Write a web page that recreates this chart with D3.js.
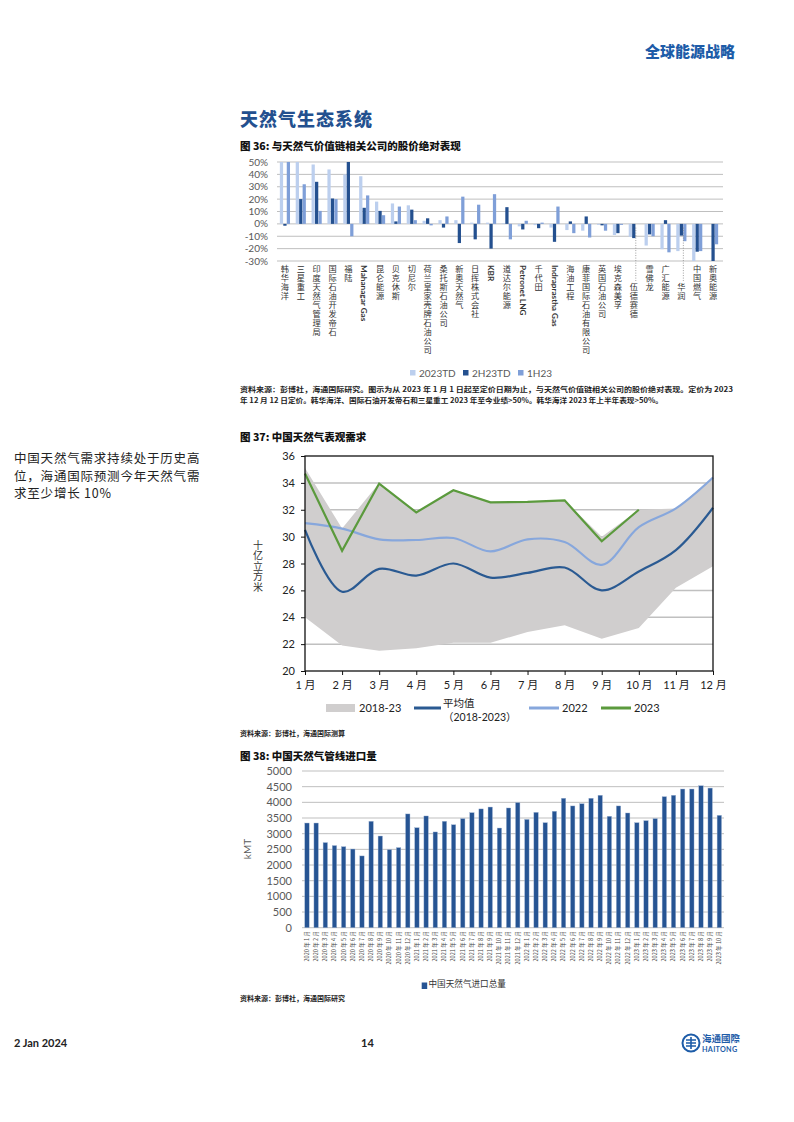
<!DOCTYPE html>
<html><head><meta charset="utf-8">
<script src="https://cdn.jsdelivr.net/npm/d3@7"></script>
<style>
body{margin:0;background:#fff;}
svg text{font-family: Lato, "Noto Sans CJK SC", sans-serif;}
.cjk{font-family:"Noto Sans CJK SC", sans-serif !important;}
</style></head><body>
<svg id="page" width="794" height="1122" xmlns="http://www.w3.org/2000/svg"></svg>
<script>
// ---------- Figure 36 data ----------
const companies = ["韩华海洋","三星重工","印度天然气管理局","国际石油开发帝石","福陆","Mahanagar Gas","昆仑能源","贝克休斯","切尼尔","荷兰皇家壳牌石油公司","桑托斯石油公司","新奥天然气","日挥株式会社","KBR","道达尔能源","Petronet LNG","千代田","Indraprastha Gas","海油工程","康菲国际石油有限公司","英国石油公司","埃克森美孚","伍德赛德","雪佛龙","广汇能源","华润","中国燃气","新奥能源"];
const truncated = ["伍德赛德","华润"];
const perf2023TD = [65,62,48,44,40,38.5,18,16.5,15,2.5,3,3,1,1,0.5,-2,-1,-3,-5,-5.5,-0.8,-9,-10.5,-17.5,-20.5,-22,-32,0];
const perf2H23TD = [-1.5,20,34,20.5,55,13,10.5,2,11.5,4.5,-3,-15.5,-12.5,-20,13.5,-4.5,-3.5,-14.5,2,6,-1.2,-7.5,-11.5,-8.5,3,-9.5,-22.5,-32];
const perf1H23 = [60,32,10.5,20,-10,23,7,14,3,-1.2,6,22,15.5,24,-12.5,2.5,1,14,-7.5,-11,-5.5,-0.8,0,-10,-23,-14,-22,-16.5];
const perfSeries = ["2023TD","2H23TD","1H23"];
const perfTicks = [50,40,30,20,10,0,-10,-20,-30];

// ---------- Figure 37 data ----------
const months = ["1 月","2 月","3 月","4 月","5 月","6 月","7 月","8 月","9 月","10 月","11 月","12 月"];
const rangeHigh = [35.1,30.6,34.0,31.8,33.5,32.6,32.6,32.7,30.0,32.0,32.1,34.4];
const rangeLow = [24.0,21.9,21.5,21.7,22.1,22.1,22.9,23.4,22.4,23.2,26.2,27.8];
const avg1823 = [30.5,25.9,27.6,27.1,28.0,26.95,27.3,27.7,26.0,27.4,29.0,32.15];
const demand2022 = [31.0,30.6,29.8,29.75,29.9,28.9,29.8,29.6,27.9,30.7,32.1,34.4];
const demand2023 = [34.7,28.95,33.95,31.8,33.45,32.55,32.58,32.7,29.65,32.0];
const demandTicks = [20,22,24,26,28,30,32,34,36];

// ---------- Figure 38 data ----------
const importMonths = ["2020 年 1 月","2020 年 2 月","2020 年 3 月","2020 年 4 月","2020 年 5 月","2020 年 6 月","2020 年 7 月","2020 年 8 月","2020 年 9 月","2020 年 10 月","2020 年 11 月","2020 年 12 月",
"2021 年 1 月","2021 年 2 月","2021 年 3 月","2021 年 4 月","2021 年 5 月","2021 年 6 月","2021 年 7 月","2021 年 8 月","2021 年 9 月","2021 年 10 月","2021 年 11 月","2021 年 12 月",
"2022 年 1 月","2022 年 2 月","2022 年 3 月","2022 年 4 月","2022 年 5 月","2022 年 6 月","2022 年 7 月","2022 年 8 月","2022 年 9 月","2022 年 10 月","2022 年 11 月","2022 年 12 月",
"2023 年 1 月","2023 年 2 月","2023 年 3 月","2023 年 4 月","2023 年 5 月","2023 年 6 月","2023 年 7 月","2023 年 8 月","2023 年 9 月","2023 年 10 月"];
const importVolume = [3340,3340,2715,2620,2585,2510,2290,3395,2925,2490,2555,3630,
3190,3565,3055,3395,3285,3480,3670,3790,3850,3180,3820,3990,
3455,3680,3350,3715,4130,3885,3955,4130,4225,3555,3885,3660,
3350,3415,3480,4180,4225,4425,4425,4530,4455,3585];
const importTicks = [0,500,1000,1500,2000,2500,3000,3500,4000,4500,5000];

const svg = d3.select("#page");
const BLUE_HDR = "#1d5ca8";

// ---------- page text ----------
svg.append("text").attr("x",735).attr("y",57).attr("text-anchor","end").attr("class","cjk")
  .attr("font-size",15).attr("font-weight",900).attr("fill",BLUE_HDR).text("全球能源战略");
svg.append("text").attr("x",240).attr("y",126).attr("class","cjk")
  .attr("font-size",18).attr("font-weight",900).attr("fill","#23508f").attr("letter-spacing",1).text("天然气生态系统");

const para = ["中国天然气需求持续处于历史高","位，海通国际预测今年天然气需","求至少增长 10%"];
para.forEach((t,i)=>svg.append("text").attr("x",14).attr("y",463+i*17.5).attr("class","cjk")
  .attr("font-size",12.5).attr("letter-spacing",0.8).attr("fill","#222").text(t));

svg.append("text").attr("x",14).attr("y",1047).attr("font-size",11).attr("font-weight",700)
  .attr("font-family","Liberation Sans").attr("fill","#222").text("2 Jan 2024");
svg.append("text").attr("x",361).attr("y",1047).attr("font-size",11).attr("font-weight",700)
  .attr("font-family","Liberation Sans").attr("fill","#222").text("14");
// logo
const logo = svg.append("g").attr("transform","translate(691,1043)");
logo.append("circle").attr("r",8.5).attr("fill","none").attr("stroke",BLUE_HDR).attr("stroke-width",2);
logo.append("path").attr("d","M-5,-3H5M-5,0H5M-5,3H5M0,-6V6").attr("stroke",BLUE_HDR).attr("stroke-width",1.6);
svg.append("text").attr("x",702).attr("y",1042).attr("class","cjk").attr("font-size",9.5).attr("font-weight",700)
  .attr("fill",BLUE_HDR).text("海通國際");
svg.append("text").attr("x",702).attr("y",1052).attr("font-size",7.2).attr("font-weight",700).attr("letter-spacing",0.3)
  .attr("fill",BLUE_HDR).text("HAITONG");

function title(y, t){
  svg.append("text").attr("x",240).attr("y",y).attr("class","cjk").attr("font-size",10.5)
    .attr("font-weight",900).attr("fill","#111").text(t);
}
function source(y, t, len){
  const s = svg.append("text").attr("x",240).attr("y",y).attr("class","cjk").attr("font-size",7)
    .attr("font-weight",700).attr("fill","#222").text(t);
  if(len) s.attr("textLength",len).attr("lengthAdjust","spacingAndGlyphs");
}

// ================= Figure 36 =================
title(150,"图 36: 与天然气价值链相关公司的股价绝对表现");
{
  const x0 = d3.scaleBand().domain(companies).range([277,721]).paddingInner(0.36).paddingOuter(0.18);
  const x1 = d3.scaleBand().domain(perfSeries).range([0,x0.bandwidth()]).paddingInner(0.06);
  const y = d3.scaleLinear().domain([-30,50]).range([261,162]);
  const colors = d3.scaleOrdinal().domain(perfSeries).range(["#bccfee","#24508f","#7f9fd8"]);
  const g = svg.append("g");
  g.append("clipPath").attr("id","clip36").append("rect").attr("x",270).attr("y",y(50)).attr("width",460).attr("height",y(-30)-y(50));
  g.selectAll(".grid").data(perfTicks).join("line").attr("x1",277).attr("x2",723)
    .attr("y1",d=>y(d)).attr("y2",d=>y(d)).attr("stroke","#bfbfbf").attr("stroke-width",1);
  g.selectAll(".yl").data(perfTicks).join("text").attr("x",268).attr("y",d=>y(d)).attr("dy","0.35em")
    .attr("text-anchor","end").attr("font-size",10).attr("fill","#595959").text(d=>d+"%");
  const seriesVals = [perf2023TD, perf2H23TD, perf1H23];
  const bars = g.append("g").attr("clip-path","url(#clip36)");
  seriesVals.forEach((vals,si)=>{
    bars.selectAll(".b"+si).data(vals).join("rect")
      .attr("x",(d,i)=>x0(companies[i])+x1(perfSeries[si]))
      .attr("width",x1.bandwidth())
      .attr("y",d=>y(Math.max(0,d))).attr("height",d=>Math.abs(y(d)-y(0)))
      .attr("fill",colors(perfSeries[si]));
  });
  // category labels (vertical)
  companies.forEach((c,i)=>{
    const cx = x0(c)+x0.bandwidth()/2;
    const isTr = truncated.includes(c);
    const latin = /[A-Za-z]/.test(c);
    g.append("text").attr("x",cx).attr("y",isTr?283:265)
      .style("writing-mode","vertical-rl").attr("class", latin?"":"cjk")
      .attr("font-size",8.2).attr("letter-spacing",latin?0:0.8)
      .attr("font-weight",latin?700:400)
      .attr("fill","#333").text(c);
    if(isTr){
      g.append("line").attr("x1",cx+2).attr("x2",cx+2).attr("y1",y(-3)).attr("y2",281)
        .attr("stroke","#888").attr("stroke-width",0.8).attr("stroke-dasharray","1,1.5");
    }
  });
  // legend
  const lx = [410,463,518];
  perfSeries.forEach((s,i)=>{
    g.append("rect").attr("x",lx[i]).attr("y",370).attr("width",5.5).attr("height",5.5).attr("fill",colors(s));
    g.append("text").attr("x",lx[i]+9).attr("y",373).attr("dy","0.35em").attr("font-size",10).attr("fill","#595959").text(s);
  });
}
source(392,"资料来源：彭博社，海通国际研究。图示为从 2023 年 1 月 1 日起至定价日期为止，与天然气价值链相关公司的股价绝对表现。定价为 2023",493);
source(403,"年 12 月 12 日定价。韩华海洋、国际石油开发帝石和三星重工 2023 年至今业绩>50%。韩华海洋 2023 年上半年表现>50%。",423);

// ================= Figure 37 =================
title(441,"图 37: 中国天然气表观需求");
{
  const x = d3.scalePoint().domain(months).range([305,713]);
  const y = d3.scaleLinear().domain([20,36]).range([671,456]);
  const g = svg.append("g");
  g.selectAll(".grid").data(demandTicks.filter(d=>d>20&&d<36)).join("line")
    .attr("x1",305).attr("x2",713).attr("y1",d=>y(d)).attr("y2",d=>y(d))
    .attr("stroke","#c0c0c0").attr("stroke-width",1.5);
  const area = d3.area().x((d,i)=>x(months[i])).y0((d,i)=>y(rangeLow[i])).y1(d=>y(d));
  g.append("path").datum(rangeHigh).attr("d",area).attr("fill","#d0cece");
  const smooth = d3.line().x((d,i)=>x(months[i])).y(d=>y(d)).curve(d3.curveCatmullRom.alpha(0.5));
  const straight = d3.line().x((d,i)=>x(months[i])).y(d=>y(d));
  g.append("path").datum(avg1823).attr("d",smooth).attr("fill","none").attr("stroke","#2a5a92").attr("stroke-width",2.2);
  g.append("path").datum(demand2022).attr("d",smooth).attr("fill","none").attr("stroke","#87a7dc").attr("stroke-width",2.2);
  g.append("path").datum(demand2023).attr("d",straight).attr("fill","none").attr("stroke","#5b9a3d").attr("stroke-width",2.2);
  // frame
  g.append("rect").attr("x",305).attr("y",456).attr("width",408).attr("height",215)
    .attr("fill","none").attr("stroke","#111").attr("stroke-width",1.3);
  // axes
  const ax = g.append("g").attr("transform","translate(0,671)")
    .call(d3.axisBottom(x).tickSize(4).tickPadding(6));
  ax.select(".domain").remove();
  ax.selectAll("line").attr("stroke","#111");
  ax.selectAll("text").attr("font-size",11).attr("fill","#222").attr("font-family","Lato, 'Noto Sans CJK SC'");
  const ay = g.append("g").attr("transform","translate(305,0)")
    .call(d3.axisLeft(y).tickValues(demandTicks).tickSize(4).tickPadding(6));
  ay.select(".domain").remove();
  ay.selectAll("line").attr("stroke","#111");
  ay.selectAll("text").attr("font-size",11).attr("fill","#222");
  g.append("text").attr("x",258).attr("y",540).style("writing-mode","vertical-rl").attr("class","cjk")
    .attr("font-size",10).attr("letter-spacing",0.5).attr("fill","#333").text("十亿立方米");
  // legend
  g.append("rect").attr("x",326).attr("y",704).attr("width",29).attr("height",8).attr("fill","#d0cece");
  g.append("text").attr("x",359).attr("y",708).attr("dy","0.35em").attr("font-size",11).attr("fill","#222").text("2018-23");
  g.append("line").attr("x1",414).attr("x2",441).attr("y1",708).attr("y2",708).attr("stroke","#2a5a92").attr("stroke-width",3);
  g.append("text").attr("x",443).attr("y",703).attr("dy","0.35em").attr("class","cjk").attr("font-size",10.5).attr("fill","#222").text("平均值");
  g.append("text").attr("x",443).attr("y",717).attr("dy","0.35em").attr("font-size",10.5).attr("fill","#222").text("（2018-2023）");
  g.append("line").attr("x1",529).attr("x2",559).attr("y1",708).attr("y2",708).attr("stroke","#87a7dc").attr("stroke-width",3);
  g.append("text").attr("x",562).attr("y",708).attr("dy","0.35em").attr("font-size",11).attr("fill","#222").text("2022");
  g.append("line").attr("x1",601).attr("x2",631).attr("y1",708).attr("y2",708).attr("stroke","#5b9a3d").attr("stroke-width",3);
  g.append("text").attr("x",634).attr("y",708).attr("dy","0.35em").attr("font-size",11).attr("fill","#222").text("2023");
}
source(736,"资料来源：彭博社，海通国际测算");

// ================= Figure 38 =================
title(760,"图 38: 中国天然气管线进口量");
{
  const x = d3.scaleBand().domain(importMonths).range([302.4,723.9]).paddingInner(0.52).paddingOuter(0.26);
  const y = d3.scaleLinear().domain([0,5000]).range([927.7,771]);
  const g = svg.append("g");
  g.selectAll(".grid").data(importTicks).join("line").attr("x1",302).attr("x2",724)
    .attr("y1",d=>y(d)).attr("y2",d=>y(d)).attr("stroke","#bfbfbf").attr("stroke-width",1);
  g.selectAll(".yl").data(importTicks).join("text").attr("x",292).attr("y",d=>y(d)).attr("dy","0.35em")
    .attr("text-anchor","end").attr("font-size",11).attr("fill","#595959").text(d=>d);
  g.selectAll(".bar").data(importVolume).join("rect")
    .attr("x",(d,i)=>x(importMonths[i])).attr("width",x.bandwidth())
    .attr("y",d=>y(d)).attr("height",d=>y(0)-y(d)).attr("fill","#265493")
    .attr("stroke","#9fb3d3").attr("stroke-width",0.4);
  importMonths.forEach((m,i)=>{
    const cx = x(m)+x.bandwidth()/2;
    g.append("text").attr("transform",`translate(${cx+1.9},931) rotate(-90)`).attr("text-anchor","end")
      .attr("class","cjk").attr("font-size",5.6).attr("fill","#444").text(m);
  });
  g.append("text").attr("transform","translate(251,849) rotate(-90)").attr("text-anchor","middle")
    .attr("font-size",10).attr("fill","#595959").text("kMT");
  g.append("rect").attr("x",421.7).attr("y",982.5).attr("width",5.5).attr("height",6.5).attr("fill","#265493");
  g.append("text").attr("x",428.5).attr("y",983.5).attr("dy","0.35em").attr("class","cjk").attr("font-size",8.6)
    .attr("fill","#333").text("中国天然气进口总量");
}
source(1001,"资料来源：彭博社，海通国际研究");
</script>
</body></html>
